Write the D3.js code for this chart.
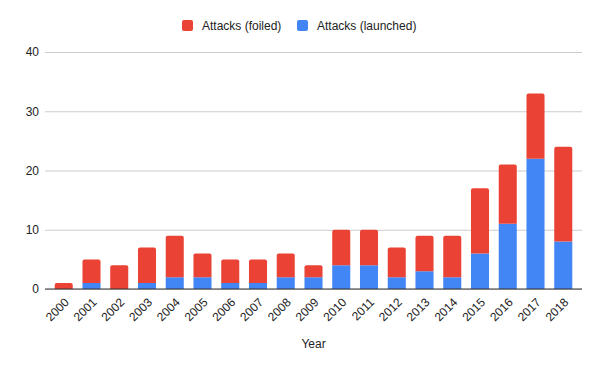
<!DOCTYPE html>
<html>
<head>
<meta charset="utf-8">
<script src="https://cdn.jsdelivr.net/npm/d3@7"></script>
<style>
  body { margin: 0; background: #fff; }
  svg { font-family: "Liberation Sans", Arial, sans-serif; }
</style>
</head>
<body>
<script>
// data
var years = ["2000","2001","2002","2003","2004","2005","2006","2007","2008","2009",
             "2010","2011","2012","2013","2014","2015","2016","2017","2018"];
var launched = [0, 1, 0, 1, 2, 2, 1, 1, 2, 2, 4, 4, 2, 3, 2, 6, 11, 22, 8];
var foiled   = [1, 4, 4, 6, 7, 4, 4, 4, 4, 2, 6, 6, 5, 6, 7, 11, 10, 11, 16];
var yTicks = [0, 10, 20, 30, 40];
var seriesNames = ["Attacks (foiled)", "Attacks (launched)"];
var colors = {launched: "#4285f4", foiled: "#ea4335"};

var W = 600, H = 371;
var plot = {left: 45, right: 582, top: 52, bottom: 289};

var svg = d3.select("body").append("svg")
    .attr("width", W)
    .attr("height", H);

var x = d3.scaleBand()
    .domain(years)
    .range([50, 577])
    .paddingInner(0.35)
    .paddingOuter(0.17);

var y = d3.scaleLinear()
    .domain([0, 40])
    .range([plot.bottom, plot.top]);

// GRID + Y LABELS
var yAxis = d3.axisLeft(y)
    .tickValues(yTicks)
    .tickSize(-(plot.right - plot.left))
    .tickPadding(6);

var gy = svg.append("g")
    .attr("transform", "translate(" + plot.left + ",0)")
    .call(yAxis);
gy.select(".domain").remove();
gy.selectAll("line").attr("stroke", "#cccccc");
gy.selectAll("text")
    .attr("fill", "#222")
    .style("font-size", "12px");

// STACKED BARS
var rows = years.map(function(yr, i) {
  return {year: yr, launched: launched[i], foiled: foiled[i]};
});
var stack = d3.stack().keys(["launched", "foiled"])(rows);

svg.append("g").selectAll("g")
    .data(stack)
  .enter().append("g")
    .attr("fill", function(d) { return colors[d.key]; })
  .selectAll("path")
    .data(function(d) { return d; })
  .enter().append("path")
    .attr("d", function(d, i) {
      var x0 = x(d.data.year), w = x.bandwidth();
      var yTop = y(d[1]), yBot = y(d[0]);
      var h = yBot - yTop;
      if (h <= 0) return null;
      var isTop = d[1] === d.data.launched + d.data.foiled;
      var r = isTop ? Math.min(2, h) : 0;
      return "M" + x0 + "," + yBot +
             "V" + (yTop + r) +
             "Q" + x0 + "," + yTop + " " + (x0 + r) + "," + yTop +
             "H" + (x0 + w - r) +
             "Q" + (x0 + w) + "," + yTop + " " + (x0 + w) + "," + (yTop + r) +
             "V" + yBot + "Z";
    });

// BASELINE
svg.append("line")
    .attr("x1", plot.left).attr("x2", plot.right)
    .attr("y1", y(0)).attr("y2", y(0))
    .attr("stroke", "#333").attr("stroke-width", 1);

// X LABELS
var xAxis = d3.axisBottom(x).tickSize(0).tickPadding(0);
var gx = svg.append("g")
    .attr("transform", "translate(0," + plot.bottom + ")")
    .call(xAxis);
gx.select(".domain").remove();
gx.selectAll("text")
    .attr("fill", "#222")
    .style("font-size", "12px")
    .attr("text-anchor", "end")
    .attr("dy", 0)
    .attr("y", 0)
    .attr("transform", "translate(6,14) rotate(-45)");

// AXIS TITLE
svg.append("text")
    .attr("x", 313.5)
    .attr("y", 348)
    .attr("text-anchor", "middle")
    .attr("fill", "#222")
    .style("font-size", "12px")
    .text("Year");

// LEGEND
var legend = svg.append("g");
var lx = [182, 297];
var legendKeys = ["foiled", "launched"];
legendKeys.forEach(function(k, i) {
  legend.append("rect")
      .attr("x", lx[i]).attr("y", 20)
      .attr("width", 11).attr("height", 11)
      .attr("rx", 2)
      .attr("fill", colors[k]);
  legend.append("text")
      .attr("x", lx[i] + 20).attr("y", 29.5)
      .attr("fill", "#222")
      .style("font-size", "12px")
      .text(seriesNames[i]);
});
</script>
</body>
</html>
